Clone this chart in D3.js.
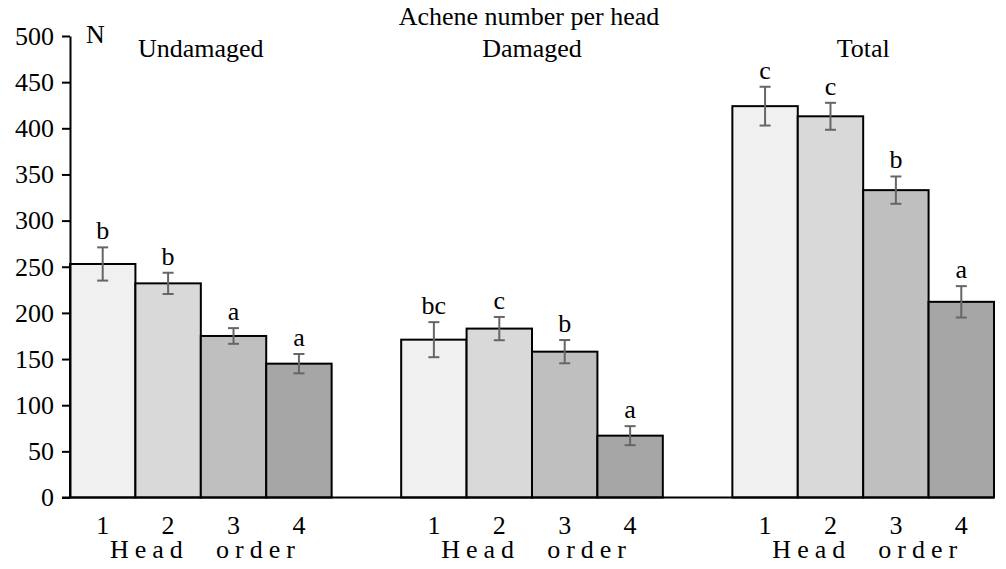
<!DOCTYPE html>
<html>
<head>
<meta charset="utf-8">
<script src="https://cdn.jsdelivr.net/npm/d3@7"></script>
<style>
  html, body { margin: 0; padding: 0; background: #fff; }
  text { font-family: "Liberation Serif", "Times New Roman", serif; fill: #000; }
</style>
</head>
<body>
<svg id="chart" width="1006" height="569"></svg>
<script>
const groups = ["Undamaged", "Damaged", "Total"];
const headOrder = ["1", "2", "3", "4"];
const undamagedMean = [253, 232, 175, 145];
const undamagedErr = [18, 11.5, 8.5, 10.5];
const undamagedLetters = ["b", "b", "a", "a"];
const damagedMean = [171, 183, 158, 67];
const damagedErr = [19, 12.6, 12.6, 10.3];
const damagedLetters = ["bc", "c", "b", "a"];
const totalMean = [424, 413, 333, 212];
const totalErr = [21, 14.6, 14.8, 17];
const totalLetters = ["c", "c", "b", "a"];
const yTicks = [0, 50, 100, 150, 200, 250, 300, 350, 400, 450, 500];
const barColors = ["#f0f0f0", "#d9d9d9", "#bfbfbf", "#a6a6a6"];
const title = "Achene number per head";
const yLabel = "N";
const xTitleA = "Head";
const xTitleB = "order";

const data = [
  { group: "Undamaged", mean: undamagedMean, err: undamagedErr, letters: undamagedLetters },
  { group: "Damaged", mean: damagedMean, err: damagedErr, letters: damagedLetters },
  { group: "Total", mean: totalMean, err: totalErr, letters: totalLetters }
];
const bars = [];
data.forEach(g => headOrder.forEach((h, i) => bars.push({
  group: g.group, head: h, value: g.mean[i], err: g.err[i], letter: g.letters[i], idx: i
})));

const svg = d3.select("#chart");
const FS = 26;
const FF = '"Liberation Serif", "Times New Roman", serif';

const y = d3.scaleLinear().domain([0, 500]).range([497.5, 36]);
const x0 = d3.scaleBand().domain(groups).range([70, 994]).paddingInner(0.21).paddingOuter(0);
const x1 = d3.scaleBand().domain(headOrder).range([0, x0.bandwidth()]).padding(0);
const color = d3.scaleOrdinal().domain(headOrder).range(barColors);

// bars
svg.append("g").selectAll("rect").data(bars).join("rect")
  .attr("x", d => x0(d.group) + x1(d.head))
  .attr("y", d => y(d.value))
  .attr("width", x1.bandwidth())
  .attr("height", d => y(0) - y(d.value))
  .attr("fill", d => color(d.head))
  .attr("stroke", "#000")
  .attr("stroke-width", 2);

// error bars
const eg = svg.append("g").attr("stroke", "#666").attr("stroke-width", 2).attr("fill", "none");
bars.forEach(d => {
  const cx = x0(d.group) + x1(d.head) + x1.bandwidth() / 2;
  const t = y(d.value + d.err), b = y(d.value - d.err);
  eg.append("line").attr("x1", cx).attr("x2", cx).attr("y1", t).attr("y2", b);
  eg.append("line").attr("x1", cx - 5.5).attr("x2", cx + 5.5).attr("y1", t).attr("y2", t);
  eg.append("line").attr("x1", cx - 5.5).attr("x2", cx + 5.5).attr("y1", b).attr("y2", b);
});

// significance letters
svg.append("g").selectAll("text").data(bars).join("text")
  .attr("x", d => x0(d.group) + x1(d.head) + x1.bandwidth() / 2)
  .attr("y", d => y(d.value + d.err) - 8)
  .attr("text-anchor", "middle")
  .style("font-family", FF)
  .attr("font-size", FS)
  .text(d => d.letter);

// y axis
const yAxis = d3.axisLeft(y).tickValues(yTicks).tickSize(8).tickPadding(8).tickSizeOuter(0);
const ya = svg.append("g").attr("transform", "translate(70,0)").call(yAxis);
ya.attr("font-family", null).attr("font-size", null);
ya.select(".domain").attr("stroke", "#000").attr("stroke-width", 2);
ya.selectAll(".tick line").attr("stroke", "#000").attr("stroke-width", 2);
ya.selectAll(".tick text").style("font-family", FF).style("font-size", FS + "px").attr("fill", "#000");

// baseline
svg.append("line").attr("x1", 62).attr("x2", x0.range()[1]).attr("y1", y(0)).attr("y2", y(0))
  .attr("stroke", "#000").attr("stroke-width", 2);

// x tick labels per group
groups.forEach(g => {
  const xa = svg.append("g").attr("transform", `translate(${x0(g)},${y(0)})`)
    .call(d3.axisBottom(x1).tickSize(0));
  xa.attr("font-family", null).attr("font-size", null);
  xa.select(".domain").remove();
  xa.selectAll(".tick text").style("font-family", FF).style("font-size", FS + "px")
    .attr("fill", "#000").attr("y", 534 - y(0)).attr("dy", 0);
  svg.append("text").attr("x", x0(g) + 40).attr("y", 558).style("font-family", FF).attr("font-size", FS)
    .attr("letter-spacing", 6).text(xTitleA);
  svg.append("text").attr("x", x0(g) + 146).attr("y", 558).style("font-family", FF).attr("font-size", FS)
    .attr("letter-spacing", 6).text(xTitleB);
  svg.append("text").attr("x", x0(g) + x0.bandwidth() / 2).attr("y", 57)
    .attr("text-anchor", "middle").style("font-family", FF).attr("font-size", FS).text(g);
});

// title and y label
svg.append("text").attr("x", 529).attr("y", 25).attr("text-anchor", "middle").style("font-family", FF).attr("font-size", FS).text(title);
svg.append("text").attr("x", 86).attr("y", 43).style("font-family", FF).attr("font-size", FS).text(yLabel);
</script>
</body>
</html>
